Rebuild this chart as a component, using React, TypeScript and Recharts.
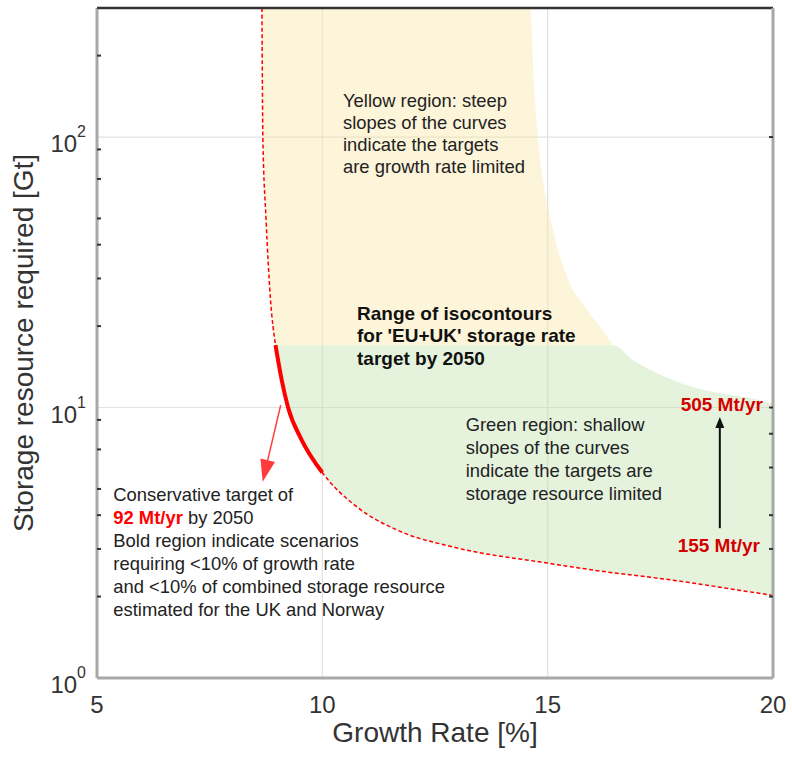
import React from 'react';
import { ComposedChart, Area, Line, XAxis, YAxis, CartesianGrid, ReferenceLine } from 'recharts';

const FONT = '"Liberation Sans", Arial, Helvetica, sans-serif';

// Axis ticks
const xTicks = [5, 10, 15, 20];
const yTicks = [1, 10, 100];
const yMinorTicks = [2, 3, 4, 5, 6, 7, 8, 9, 20, 30, 40, 50, 60, 70, 80, 90, 200, 300];

// 155 Mt/yr isocontour (red dashed curve)
const growthRate = [8.66, 8.68, 8.75, 8.85, 8.96, 9.1, 9.24, 9.54, 10.0, 10.76, 11.65, 12.9, 15.0, 16.45, 17.0, 18.1, 19.1, 20.0];
const resource155 = [300, 100, 50, 25, 17, 12.6, 10.0, 7.6, 5.75, 4.3, 3.53, 3.05, 2.66, 2.45, 2.39, 2.26, 2.13, 2.02];

// Bold (conservative) segment of the curve
const boldRate = [8.96, 9.1, 9.24, 9.54, 10.0];
const boldResource = [17, 12.6, 10.0, 7.6, 5.75];

// Yellow region (growth-rate limited)
const yellowRate = [8.66, 8.68, 8.75, 8.85, 8.96, 14.61, 14.72, 14.81, 14.9, 15.05, 15.23, 15.49, 15.83, 16.16, 16.45];
const yellowLow = [300, 100, 50, 25, 17, 17, 17, 17, 17, 17, 17, 17, 17, 17, 17];
const yellowHigh = [300, 300, 300, 300, 300, 300, 137, 89.5, 67.5, 50.7, 38.2, 28.8, 23.5, 19.9, 17];

// Green region (storage-resource limited)
const greenRate = [8.96, 9.1, 9.24, 9.54, 10.0, 10.76, 11.65, 12.9, 15.0, 16.45, 16.89, 17.43, 18.09, 18.82, 19.56, 20.0];
const greenLow = [17, 12.6, 10.0, 7.6, 5.75, 4.3, 3.53, 3.05, 2.66, 2.45, 2.4, 2.33, 2.26, 2.17, 2.08, 2.02];
const greenHigh = [17, 17, 17, 17, 17, 17, 17, 17, 17, 17, 15.0, 13.4, 12.1, 11.3, 10.8, 10.3];

const curveData = growthRate.map((x, i) => ({ x, y: resource155[i] }));
const boldData = boldRate.map((x, i) => ({ x, y: boldResource[i] }));
const yellowData = yellowRate.map((x, i) => ({ x, r: [yellowLow[i], yellowHigh[i]] }));
const greenData = greenRate.map((x, i) => ({ x, r: [greenLow[i], greenHigh[i]] }));

// Arrows (data coordinates)
const redArrow = [{ x: 9.076, y: 10.2 }, { x: 8.676, y: 5.32 }];
const blackArrow = [{ x: 18.82, y: 3.58 }, { x: 18.82, y: 9.22 }];

const arrowShape = (color: string, width: number, headLen: number, headW: number) => (p: any) => {
  const { x1, y1, x2, y2 } = p;
  if ([x1, y1, x2, y2].some((v) => typeof v !== 'number' || isNaN(v))) return <g />;
  const dx = x2 - x1;
  const dy = y2 - y1;
  const len = Math.hypot(dx, dy) || 1;
  const ux = dx / len;
  const uy = dy / len;
  const bx = x2 - ux * headLen;
  const by = y2 - uy * headLen;
  const px = (-uy * headW) / 2;
  const py = (ux * headW) / 2;
  return (
    <g>
      <line x1={x1} y1={y1} x2={bx + ux * 2} y2={by + uy * 2} stroke={color} strokeWidth={width} />
      <polygon points={`${x2},${y2} ${bx + px},${by + py} ${bx - px},${by - py}`} fill={color} />
    </g>
  );
};

const EmptyTick = () => <g />;

const YTick = (props: any) => {
  const { y, payload } = props;
  const exp = Math.round(Math.log10(payload.value));
  return (
    <text x={86} y={y + 15} textAnchor="end" fill="#333" fontSize={24} fontFamily={FONT}>
      10
      <tspan dy={-15} fontSize={16}>
        {exp}
      </tspan>
    </text>
  );
};

const XTick = (props: any) => {
  const { x, payload } = props;
  return (
    <text x={x} y={713} textAnchor="middle" fill="#333" fontSize={24} fontFamily={FONT}>
      {payload.value}
    </text>
  );
};

const XTitle = () => (
  <text x={435} y={742} textAnchor="middle" fontSize={28} fill="#333" fontFamily={FONT}>
    Growth Rate [%]
  </text>
);

const YTitle = () => (
  <text x={0} y={0} transform="translate(33,343) rotate(-90)" textAnchor="middle" fontSize={28} fill="#333" fontFamily={FONT}>
    Storage resource required [Gt]
  </text>
);

const txt: React.CSSProperties = {
  position: 'absolute',
  fontFamily: FONT,
  fontSize: 18.4,
  color: '#222',
  whiteSpace: 'nowrap',
  pointerEvents: 'none',
};

export default function App() {
  return (
    <div style={{ position: 'absolute', left: 0, top: 0, width: 792, height: 758, background: '#fff', overflow: 'hidden' }}>
      <ComposedChart width={792} height={758} margin={{ top: 8, right: 19, bottom: 30, left: 0 }}>
        <CartesianGrid stroke="#e2e2e2" strokeWidth={1.2} />
        <XAxis
          dataKey="x"
          type="number"
          domain={[5, 20]}
          ticks={xTicks}
          allowDataOverflow
          height={50}
          tickLine={false}
          axisLine={{ stroke: '#a8a8a8', strokeWidth: 3 }}
          tick={<XTick />}
          label={<XTitle />}
        />
        <XAxis
          xAxisId="top"
          type="number"
          orientation="top"
          mirror
          domain={[5, 20]}
          ticks={[10, 15]}
          allowDataOverflow
          tick={<EmptyTick />}
          tickSize={6}
          tickLine={{ stroke: '#b0b0b0', strokeWidth: 1.5 }}
          axisLine={{ stroke: '#333', strokeWidth: 2.5 }}
        />
        <XAxis
          xAxisId="bm"
          type="number"
          orientation="bottom"
          mirror
          domain={[5, 20]}
          ticks={[10, 15]}
          allowDataOverflow
          tick={<EmptyTick />}
          tickSize={6}
          tickLine={{ stroke: '#b0b0b0', strokeWidth: 1.5 }}
          axisLine={false}
        />
        <YAxis
          scale="log"
          type="number"
          domain={[1, 300]}
          ticks={yTicks}
          allowDataOverflow
          width={97}
          tickLine={false}
          axisLine={{ stroke: '#a8a8a8', strokeWidth: 3 }}
          tick={<YTick />}
          label={<YTitle />}
        />
        <YAxis
          yAxisId="lm"
          scale="log"
          type="number"
          domain={[1, 300]}
          ticks={yMinorTicks}
          allowDataOverflow
          mirror
          tick={<EmptyTick />}
          tickSize={4}
          tickLine={{ stroke: '#333', strokeWidth: 2 }}
          axisLine={false}
        />
        <YAxis
          yAxisId="rm"
          orientation="right"
          scale="log"
          type="number"
          domain={[1, 300]}
          ticks={[...yMinorTicks, 10, 100]}
          allowDataOverflow
          mirror
          tick={<EmptyTick />}
          tickSize={4}
          tickLine={{ stroke: '#333', strokeWidth: 2 }}
          axisLine={{ stroke: '#a8a8a8', strokeWidth: 3 }}
        />
        <Area
          data={yellowData}
          dataKey="r"
          type="monotoneX"
          stroke="none"
          fill="#fbe6a0"
          fillOpacity={0.4}
          isAnimationActive={false}
          dot={false}
          activeDot={false}
        />
        <Area
          data={greenData}
          dataKey="r"
          type="monotoneX"
          stroke="none"
          fill="#bee1aa"
          fillOpacity={0.4}
          isAnimationActive={false}
          dot={false}
          activeDot={false}
        />
        <Line
          data={curveData}
          dataKey="y"
          type="monotoneX"
          stroke="#ff0000"
          strokeWidth={1.5}
          strokeDasharray="4 2.5"
          dot={false}
          activeDot={false}
          isAnimationActive={false}
        />
        <Line
          data={boldData}
          dataKey="y"
          type="monotoneX"
          stroke="#ff0000"
          strokeWidth={4}
          dot={false}
          activeDot={false}
          isAnimationActive={false}
        />
        <ReferenceLine segment={redArrow} shape={arrowShape('#ff3b3b', 1.5, 22, 15)} />
        <ReferenceLine segment={blackArrow} shape={arrowShape('#111', 2, 11, 9)} />
      </ComposedChart>

      <div style={{ ...txt, left: 343, top: 89.5, lineHeight: '22px' }}>
        Yellow region: steep
        <br />
        slopes of the curves
        <br />
        indicate the targets
        <br />
        are growth rate limited
      </div>
      <div style={{ ...txt, left: 357, top: 302.7, lineHeight: '22.7px', fontSize: 19, fontWeight: 'bold', color: '#111' }}>
        Range of isocontours
        <br />
        for 'EU+UK' storage rate
        <br />
        target by 2050
      </div>
      <div style={{ ...txt, left: 465.7, top: 412.5, lineHeight: '23px' }}>
        Green region: shallow
        <br />
        slopes of the curves
        <br />
        indicate the targets are
        <br />
        storage resource limited
      </div>
      <div style={{ ...txt, left: 113.3, top: 483, lineHeight: '23px' }}>
        Conservative target of
        <br />
        <span style={{ color: '#ff0000', fontWeight: 'bold' }}>92 Mt/yr</span> by 2050
        <br />
        Bold region indicate scenarios
        <br />
        requiring &lt;10% of growth rate
        <br />
        and &lt;10% of combined storage resource
        <br />
        estimated for the UK and Norway
      </div>
      <div style={{ ...txt, right: 29, top: 394, lineHeight: '22px', fontSize: 19, fontWeight: 'bold', color: '#d40000' }}>
        505 Mt/yr
      </div>
      <div style={{ ...txt, right: 32, top: 535, lineHeight: '22px', fontSize: 19, fontWeight: 'bold', color: '#d40000' }}>
        155 Mt/yr
      </div>
    </div>
  );
}
